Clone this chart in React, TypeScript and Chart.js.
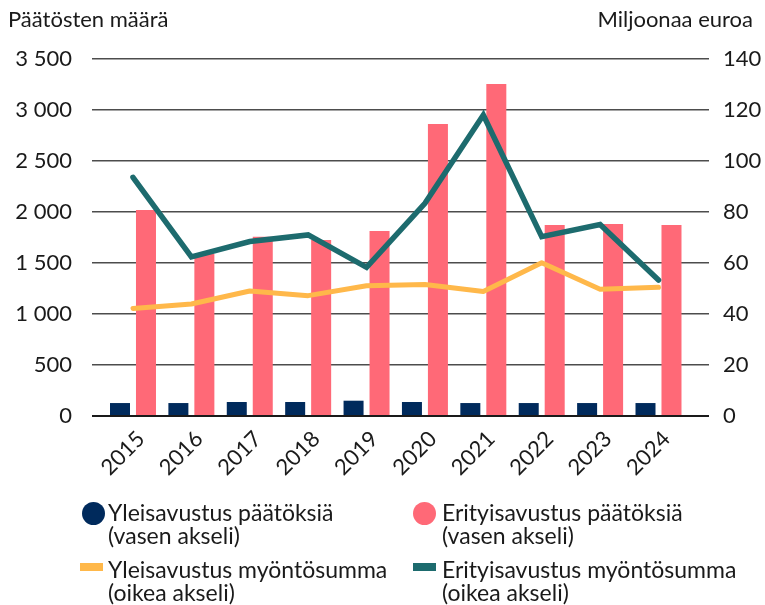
import React, { useEffect, useRef } from "react";
import { Chart, registerables } from "chart.js";

Chart.register(...registerables);

const years = [2015, 2016, 2017, 2018, 2019, 2020, 2021, 2022, 2023, 2024];
const yleisPaatokset = [127, 127, 137, 137, 150, 137, 127, 127, 127, 127];
const erityisPaatokset = [2020, 1588, 1758, 1725, 1814, 2863, 3255, 1873, 1882, 1873];
const yleisSumma = [42.2, 43.9, 49.0, 47.2, 51.1, 51.6, 48.8, 60.1, 49.7, 50.5];
const erityisSumma = [93.6, 62.4, 68.4, 71.0, 58.3, 83.4, 118.0, 70.3, 75.1, 53.3];
const leftTicks = [0, 500, 1000, 1500, 2000, 2500, 3000, 3500];
const rightTicks = [0, 20, 40, 60, 80, 100, 120, 140];

const NAVY = "#002a5c";
const PINK = "#ff6977";
const YELLOW = "#ffb84a";
const TEAL = "#1d6b6e";
const TEXT = "#1a1a1a";
const FONT = "Lato, 'Noto Sans', sans-serif";

function fmt(v: number): string {
  if (v >= 1000) {
    return Math.floor(v / 1000) + " " + String(v % 1000).padStart(3, "0");
  }
  return String(v);
}

const pts = (vals: number[]) => years.map((yr, i) => ({ x: yr, y: vals[i] }));

export default function App() {
  const ref = useRef<HTMLCanvasElement | null>(null);

  useEffect(() => {
    if (!ref.current) return;
    const chart = new Chart(ref.current, {
      type: "bar",
      data: {
        datasets: [
          {
            type: "line",
            label: "Yleisavustus myöntösumma",
            data: pts(yleisSumma),
            yAxisID: "y1",
            borderColor: YELLOW,
            backgroundColor: YELLOW,
            borderWidth: 5,
            pointRadius: 0,
            borderCapStyle: "round",
            borderJoinStyle: "round",
            tension: 0,
            order: 1,
          },
          {
            type: "line",
            label: "Erityisavustus myöntösumma",
            data: pts(erityisSumma),
            yAxisID: "y1",
            borderColor: TEAL,
            backgroundColor: TEAL,
            borderWidth: 5.5,
            pointRadius: 0,
            borderCapStyle: "round",
            borderJoinStyle: "miter",
            tension: 0,
            order: 0,
          },
          {
            type: "bar",
            label: "Yleisavustus päätöksiä",
            data: pts(yleisPaatokset),
            yAxisID: "y",
            backgroundColor: NAVY,
            categoryPercentage: 0.89,
            barPercentage: 0.77,
            order: 2,
          },
          {
            type: "bar",
            label: "Erityisavustus päätöksiä",
            data: pts(erityisPaatokset),
            yAxisID: "y",
            backgroundColor: PINK,
            categoryPercentage: 0.89,
            barPercentage: 0.77,
            order: 2,
          },
        ],
      },
      options: {
        responsive: false,
        animation: false,
        layout: { padding: { top: 59, left: 0, right: 0, bottom: 0 } },
        plugins: { legend: { display: false }, tooltip: { enabled: false } },
        scales: {
          x: {
            type: "linear",
            min: 2014.298,
            max: 2024.865,
            offset: false,
            grid: { display: false },
            border: { display: false },
            afterBuildTicks: (s: any) => {
              s.ticks = years.map((v) => ({ value: v }));
            },
            ticks: {
              autoSkip: false,
              maxRotation: 45,
              minRotation: 45,
              padding: 2,
              labelOffset: 8,
              color: TEXT,
              font: { family: FONT, size: 22 },
              callback: (v: any) => String(v),
            },
            afterFit: (s: any) => {
              s.height = 605 - 416;
            },
          },
          y: {
            position: "left",
            min: 0,
            max: 3500,
            border: { display: false },
            afterBuildTicks: (s: any) => {
              s.ticks = leftTicks.map((v) => ({ value: v }));
            },
            grid: {
              drawTicks: false,
              color: (c: any) => (c.tick && c.tick.value === 0 ? "#1a1a1a" : "#4d4d4d"),
              lineWidth: (c: any) => (c.tick && c.tick.value === 0 ? 2 : 1.6),
            },
            ticks: {
              padding: 20,
              color: TEXT,
              font: { family: FONT, size: 22 },
              callback: (v: any) => fmt(Number(v)),
            },
            afterFit: (s: any) => {
              s.width = 92;
            },
          },
          y1: {
            position: "right",
            min: 0,
            max: 140,
            border: { display: false },
            afterBuildTicks: (s: any) => {
              s.ticks = rightTicks.map((v) => ({ value: v }));
            },
            grid: { display: false, drawTicks: false },
            ticks: {
              padding: 14,
              color: TEXT,
              font: { family: FONT, size: 22 },
            },
            afterFit: (s: any) => {
              s.width = 765 - 709;
            },
          },
        },
      },
    } as any);
    return () => chart.destroy();
  }, []);

  const textStyle: React.CSSProperties = {
    position: "absolute",
    fontFamily: FONT,
    fontSize: 23,
    lineHeight: "23px",
    color: TEXT,
    whiteSpace: "nowrap",
  };

  return (
    <div style={{ position: "fixed", left: 0, top: 0, width: 765, height: 605, background: "#fff" }}>
      <canvas ref={ref} width={765} height={605} style={{ position: "absolute", left: 0, top: 0 }} />
      <div style={{ position: "absolute", left: 8, top: 5.6, fontFamily: FONT, fontSize: 22, lineHeight: "26.4px", color: TEXT, whiteSpace: "nowrap" }}>
        Päätösten määrä
      </div>
      <div style={{ position: "absolute", right: 12, top: 5.6, fontFamily: FONT, fontSize: 22, lineHeight: "26.4px", color: TEXT, whiteSpace: "nowrap" }}>
        Miljoonaa euroa
      </div>

      <div style={{ position: "absolute", left: 82, top: 502, width: 23, height: 23, borderRadius: "50%", background: NAVY }} />
      <div style={{ ...textStyle, left: 108, top: 501.3 }}>
        Yleisavustus päätöksiä
        <br />
        (vasen akseli)
      </div>
      <div style={{ position: "absolute", left: 413, top: 502, width: 23, height: 23, borderRadius: "50%", background: PINK }} />
      <div style={{ ...textStyle, left: 442, top: 501.3 }}>
        Erityisavustus päätöksiä
        <br />
        (vasen akseli)
      </div>

      <div style={{ position: "absolute", left: 80, top: 563, width: 23, height: 8, background: YELLOW }} />
      <div style={{ ...textStyle, left: 108, top: 557.9 }}>
        Yleisavustus myöntösumma
        <br />
        (oikea akseli)
      </div>
      <div style={{ position: "absolute", left: 413, top: 563, width: 23, height: 8, background: TEAL }} />
      <div style={{ ...textStyle, left: 442, top: 557.9 }}>
        Erityisavustus myöntösumma
        <br />
        (oikea akseli)
      </div>
    </div>
  );
}
